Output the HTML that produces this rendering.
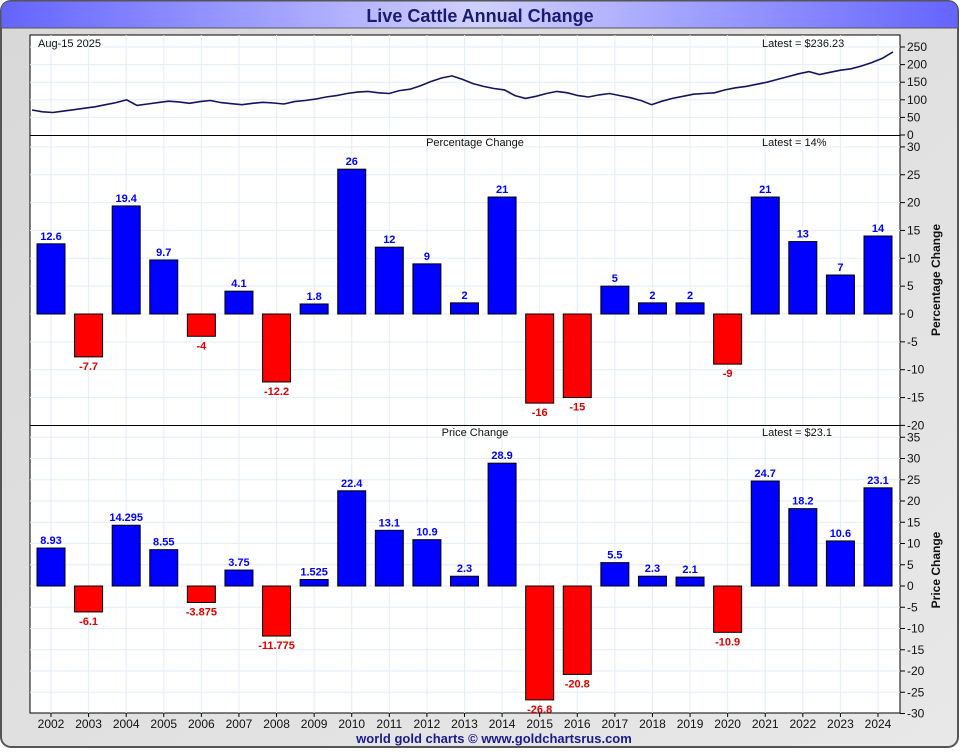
<!DOCTYPE html>
<html><head><meta charset="utf-8"><style>
body{margin:0;width:960px;height:750px;overflow:hidden;background:#fff;font-family:"Liberation Sans",sans-serif}
</style></head><body>
<svg id="c" width="960" height="750" xmlns="http://www.w3.org/2000/svg" font-family="Liberation Sans, sans-serif">
<defs>
<linearGradient id="tg" x1="0" x2="1"><stop offset="0" stop-color="#6464ff"/><stop offset="0.5" stop-color="#d0d0ff"/><stop offset="1" stop-color="#6464ff"/></linearGradient>
<linearGradient id="bg" x1="0" x2="1" y1="0" y2="1"><stop offset="0" stop-color="#d8d8d8"/><stop offset="1" stop-color="#e8e8e8"/></linearGradient>
</defs>
<rect x="1" y="1" width="957" height="746" rx="10" fill="url(#bg)" stroke="#555" stroke-width="2"/>
<path d="M1 28 V11 Q1 1 11 1 H948 Q958 1 958 11 V28 Z" fill="url(#tg)" stroke="#555" stroke-width="1"/>
<text x="480" y="22" text-anchor="middle" font-size="18" font-weight="bold" fill="#1a1a6e">Live Cattle Annual Change</text>
<rect x="30" y="35" width="870" height="678" fill="#fff" stroke="#000"/>
<g id="g"></g>
<text x="494" y="743" text-anchor="middle" font-size="13" font-weight="bold" fill="#1a1a8e">world gold charts © www.goldchartsrus.com</text>
</svg>
<script>
const years=["2002","2003","2004","2005","2006","2007","2008","2009","2010","2011","2012","2013","2014","2015","2016","2017","2018","2019","2020","2021","2022","2023","2024"];
const pctValues=[12.6,-7.7,19.4,9.7,-4,4.1,-12.2,1.8,26,12,9,2,21,-16,-15,5,2,2,-9,21,13,7,14];
const pctLabels=["12.6","-7.7","19.4","9.7","-4","4.1","-12.2","1.8","26","12","9","2","21","-16","-15","5","2","2","-9","21","13","7","14"];
const priceValues=[8.93,-6.1,14.295,8.55,-3.875,3.75,-11.775,1.525,22.4,13.1,10.9,2.3,28.9,-26.8,-20.8,5.5,2.3,2.1,-10.9,24.7,18.2,10.6,23.1];
const priceLabels=["8.93","-6.1","14.295","8.55","-3.875","3.75","-11.775","1.525","22.4","13.1","10.9","2.3","28.9","-26.8","-20.8","5.5","2.3","2.1","-10.9","24.7","18.2","10.6","23.1"];
const linePrices=[71,66,64,68,72,76,80,86,92,100,84,88,92,96,94,90,95,98,92,89,86,90,93,91,88,95,98,102,108,112,118,122,124,120,118,126,130,140,152,162,168,158,146,138,132,128,112,104,110,118,124,120,112,108,114,118,112,106,98,86,96,104,110,116,118,120,128,134,138,144,150,158,166,174,180,172,178,184,188,196,206,218,236];
const topTicks=[0,50,100,150,200,250];
const pctTicks=[30,25,20,15,10,5,0,-5,-10,-15,-20];
const priceTicks=[35,30,25,20,15,10,5,0,-5,-10,-15,-20,-25,-30];
const NS="http://www.w3.org/2000/svg";
const G=document.getElementById('g');
function mk(t,a,txt){const e=document.createElementNS(NS,t);for(const k in a)e.setAttribute(k,a[k]);if(txt!==undefined)e.textContent=txt;G.appendChild(e);return e;}
const xC=i=>51+i*(878-51)/22;
const yTop=v=>135-v*0.352;
const yPct=v=>314-v*5.57;
const yPr=v=>586-v*4.25;
// vertical grid
[[35,135],[136,425],[426,713]].forEach(([a,b])=>{
 years.forEach((y,i)=>{const l=mk('line',{x1:xC(i),x2:xC(i),y1:a,y2:b,stroke:'#e2eef8'});
 
 });
});
function hgrid(ticks,f,a,b,name){
 ticks.forEach(t=>{const y=f(t);
  if(y>a&&y<b){const l=mk('line',{x1:30,x2:900,y1:y,y2:y,stroke:'#e2eef8'});
  
  }
  const tk=mk('line',{x1:900,x2:905,y1:y,y2:y,stroke:'#000'});
  
  
  const tx=mk('text',{x:907,y:y+4,'font-size':12,fill:'#111'},String(t));
  
  
 });
}
hgrid(topTicks,yTop,35,135,'price-axis');
hgrid(pctTicks,yPct,136,425,'pct-axis');
hgrid(priceTicks,yPr,426,713,'change-axis');
// panel separators
[135.5,425.5].forEach(y=>{const l=mk('line',{x1:30,x2:900,y1:y,y2:y,stroke:'#000'});

});
// price line
const n=linePrices.length;
const pts=linePrices.map((v,i)=>(32+i*(893-32)/(n-1)).toFixed(1)+','+yTop(v).toFixed(1)).join(' ');
const pl=mk('polyline',{points:pts,fill:'none',stroke:'#14145e','stroke-width':1.6});


function bars(vals,labels,f,name){
 vals.forEach((v,i)=>{const x=xC(i)-14,y0=f(0),y1=f(v);
  const r=mk('rect',{x:x,y:Math.min(y0,y1),width:28,height:Math.abs(y1-y0),fill:v>=0?'#0000ff':'#ff0000',stroke:'#000'});
  
  
  const t=mk('text',{x:xC(i),y:v>=0?y1-4:y1+13,'text-anchor':'middle','font-size':11,'font-weight':'bold',fill:v>=0?'#0000ff':'#e00000'},labels[i]);
  
  
 });
}
bars(pctValues,pctLabels,yPct,'pct');
bars(priceValues,priceLabels,yPr,'price-change');
years.forEach((y,i)=>{const tk=mk('line',{x1:xC(i),x2:xC(i),y1:713,y2:717,stroke:'#000'});


const t=mk('text',{x:xC(i),y:728,'text-anchor':'middle','font-size':12,fill:'#111'},y);

});
const texts=[[38,47,'start','Aug-15  2025','date-label'],[762,47,'start','Latest = $236.23','latest-price'],[475,146,'middle','Percentage Change','pct-panel-title'],[762,146,'start','Latest = 14%','latest-pct'],[475,436,'middle','Price Change','price-panel-title'],[762,436,'start','Latest = $23.1','latest-change']];
texts.forEach(a=>{const t=mk('text',{x:a[0],y:a[1],'text-anchor':a[2],'font-size':11,fill:'#111'},a[3]);

});
[[280,'Percentage Change','pct-axis-title'],[570,'Price Change','change-axis-title']].forEach(a=>{
const t=mk('text',{x:940,y:a[0],'text-anchor':'middle','font-size':12,'font-weight':'bold',fill:'#111',transform:'rotate(-90 940 '+a[0]+')'},a[1]);

});
</script>
</body></html>
